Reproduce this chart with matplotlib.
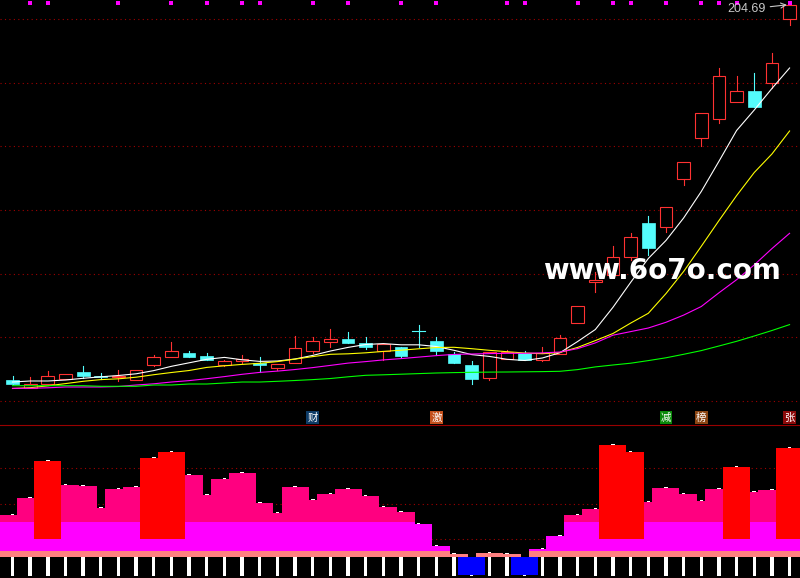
import numpy as np
import matplotlib.pyplot as plt
from matplotlib.patches import Rectangle
from matplotlib.transforms import blended_transform_factory

# ---- price data (one candle per day) ----
opens = [27.90, 23.98, 25.87, 28.51, 31.67, 29.78, 29.17, 27.90, 35.11, 38.88,
         40.62, 39.21, 34.97, 36.85, 36.05, 33.69, 35.77, 41.70, 45.94, 47.22,
         45.33, 41.56, 43.59, 51.08, 46.28, 40.29, 34.97, 28.98, 37.79, 40.48,
         37.32, 40.15, 54.90, 73.94, 77.52, 86.00, 101.88, 100.14, 122.76, 142.08,
         150.66, 159.05, 164.09, 167.72, 197.87]
highs = [29.78, 29.31, 32.14, 30.72, 34.49, 31.20, 32.61, 32.61, 39.68, 45.80,
         41.56, 40.62, 37.32, 39.68, 38.74, 35.29, 48.63, 48.16, 51.93, 50.52,
         48.16, 45.00, 43.59, 53.82, 48.16, 41.09, 36.85, 40.95, 41.80, 41.56,
         43.59, 49.10, 62.63, 78.79, 91.18, 97.17, 105.18, 109.28, 130.63, 153.58,
         174.78, 171.16, 172.71, 182.14, 204.69]
lows = [25.78, 23.98, 25.54, 28.51, 28.84, 28.37, 27.43, 27.90, 34.64, 38.88,
        38.88, 37.18, 34.49, 36.05, 31.67, 32.61, 35.77, 40.62, 43.59, 45.33,
        42.51, 37.32, 38.74, 43.59, 39.68, 35.91, 26.15, 27.90, 37.79, 37.32,
        36.99, 40.15, 54.90, 69.37, 77.52, 84.45, 86.80, 97.78, 119.93, 138.17,
        148.87, 159.05, 156.69, 165.50, 195.19]
closes = [25.87, 25.87, 29.78, 30.72, 29.92, 29.17, 29.78, 32.61, 38.74, 41.56,
          38.88, 37.18, 36.71, 37.79, 34.82, 35.29, 42.83, 46.28, 47.22, 45.33,
          43.59, 45.00, 39.21, 50.89, 41.42, 35.91, 28.37, 40.95, 41.09, 37.32,
          40.48, 47.69, 62.63, 75.02, 86.00, 95.14, 90.24, 109.28, 130.63, 153.58,
          171.16, 164.09, 156.69, 177.14, 204.69]

# moving averages
ma5 = [26.95, 27.43, 27.43, 27.90, 28.70, 29.40, 30.02, 30.82, 32.33, 34.35,
       36.00, 37.65, 38.55, 37.42, 36.66, 36.85, 37.79, 39.49, 41.56, 43.26,
       44.63, 45.05, 44.48, 44.48, 43.68, 41.89, 39.87, 39.02, 37.65, 37.09,
       38.26, 40.76, 46.04, 51.69, 62.16, 73.89, 85.15, 93.64, 104.24, 116.73,
       130.96, 145.47, 155.13, 165.27, 174.93]
ma10 = [23.89, 24.27, 25.16, 26.20, 27.28, 28.08, 28.46, 29.22, 30.39, 31.43,
        32.37, 33.83, 34.59, 35.25, 35.77, 36.57, 37.75, 38.92, 40.01, 40.24,
        40.71, 41.37, 41.94, 42.60, 43.21, 43.31, 42.65, 41.89, 41.23, 40.62,
        40.29, 40.86, 43.26, 46.46, 49.81, 54.71, 59.33, 68.61, 79.03, 90.90,
        103.01, 114.79, 125.68, 134.40, 145.24]
ma20 = [23.98, 23.98, 24.22, 24.60, 24.60, 24.60, 24.83, 25.54, 26.11, 26.95,
        27.61, 28.51, 29.50, 30.58, 31.48, 32.09, 32.84, 33.74, 34.78, 35.86,
        36.57, 37.37, 37.98, 38.69, 39.39, 39.96, 40.15, 40.34, 40.48, 40.48,
        40.67, 41.09, 42.69, 45.38, 49.01, 50.70, 52.40, 55.09, 58.48, 62.53,
        68.99, 75.16, 82.14, 89.82, 97.03]
ma60 = [25.21, 25.21, 25.21, 25.21, 25.21, 24.93, 24.93, 24.93, 25.54, 25.54,
        26.01, 26.01, 26.48, 26.95, 26.95, 27.28, 27.66, 28.08, 28.60, 29.40,
        30.11, 30.35, 30.63, 30.91, 31.20, 31.38, 31.52, 31.62, 31.67, 31.76,
        31.85, 32.00, 32.80, 34.07, 34.97, 35.81, 37.04, 38.36, 40.01, 41.75,
        43.92, 46.13, 48.63, 51.22, 54.00]

# lower indicator
power = [23.5, 33.1, 53.9, 40.4, 39.8, 27.4, 38.1, 39.3, 55.6, 59.0,
         46.0, 34.8, 43.8, 47.2, 30.3, 24.6, 39.3, 31.9, 35.3, 38.1,
         34.2, 28.0, 25.2, 18.4, 6.2, 1.5, -10.1, 2.3, 1.5, -10.1,
         4.5, 11.8, 23.7, 27.0, 63.1, 59.0, 31.0, 38.9, 35.5, 31.5,
         38.3, 50.5, 36.6, 37.7, 61.2]

top_marks = [1, 2, 6, 9, 11, 13, 14, 17, 19, 22, 24, 28, 29, 32, 34, 35,
             37, 39, 40, 41, 44]
sig_idx = [17, 24, 37, 39, 44]
sig_text = ["财", "激", "减", "榜", "张"]
sig_color = ["#0d3b66", "#c4501c", "#0a8a0a", "#8b4513", "#8b0a0a"]

price_grid = [18, 48, 78, 108, 138, 168, 198]
power_grid = [10, 30, 50]

RED = "#ff3232"
CYAN = "#54fcfc"
n = len(opens)
x = np.arange(n)
bw = 0.72

fig = plt.figure(figsize=(8, 5.78), dpi=100, facecolor="black")
ax = fig.add_axes([0, 0.2647, 1, 0.7353], facecolor="black")
ax2 = fig.add_axes([0, 0, 1, 0.2647], facecolor="black")
for a in (ax, ax2):
    a.set_xlim(-0.708, 44.59)
    a.set_xticks([])
    a.set_yticks([])
    for s in a.spines.values():
        s.set_visible(False)
ax.set_ylim(6.69, 206.97)
ax2.set_ylim(-11.83, 74.37)

for g in price_grid:
    ax.axhline(g, color="#a00000", lw=0.8, ls=(0, (1, 3)))
for g in power_grid:
    ax2.axhline(g, color="#a00000", lw=0.8, ls=(0, (1, 3)), zorder=0)

# candles
for i in range(n):
    o, h, l, c = opens[i], highs[i], lows[i], closes[i]
    if c >= o:
        ax.plot([i, i], [c, h], color=RED, lw=0.8, zorder=3)
        ax.plot([i, i], [l, o], color=RED, lw=0.8, zorder=3)
        ax.add_patch(Rectangle((i - bw / 2, o), bw, c - o, fc="black", ec=RED,
                               lw=0.8, zorder=3))
    else:
        ax.plot([i, i], [l, h], color=CYAN, lw=0.8, zorder=3)
        if o - c < 0.4:
            ax.plot([i - bw / 2, i + bw / 2], [o, o], color=CYAN, lw=0.8, zorder=3)
        else:
            ax.add_patch(Rectangle((i - bw / 2, c), bw, o - c, fc=CYAN, ec=CYAN,
                                   lw=0.5, zorder=3))

ax.plot(x, ma5, color="white", lw=0.8, zorder=4)
ax.plot(x, ma10, color="#ffff00", lw=0.8, zorder=4)
ax.plot(x, ma20, color="#ff00ff", lw=0.8, zorder=4)
ax.plot(x, ma60, color="#00ff00", lw=0.8, zorder=4)

trans = blended_transform_factory(ax.transData, ax.transAxes)
ax.scatter(top_marks, [0.9941] * len(top_marks), s=5, marker="s",
           color="#ff00ff", transform=trans, zorder=5, linewidths=0)
for i, t, col in zip(sig_idx, sig_text, sig_color):
    ax.text(i, 0.0176, t, transform=trans, ha="center", va="center",
            fontsize=7.5, color="white", family=["Noto Sans CJK SC", "DejaVu Sans"],
            bbox=dict(boxstyle="square,pad=0.12", fc=col, ec="none"), zorder=6)

imax = int(np.argmax(highs))
ax.annotate(f"{highs[imax]:.2f}", xy=(imax - 0.15, highs[imax]),
            xytext=(42.67, 202.6), ha="right", va="center", fontsize=9,
            family="Liberation Sans", color="#c8c8c8",
            arrowprops=dict(arrowstyle="->", color="#c8c8c8", lw=0.8,
                            shrinkA=1, shrinkB=0), zorder=6)

fig.text(543 / 800, 1 - 279 / 578, "www.6o7o.com", ha="left", va="baseline",
         fontsize=20, fontweight="bold", color="white", family="DejaVu Sans")

# lower panel
v = np.array(power)
pos = np.clip(v, 0, None)
w = 1.53
ax2.bar(x, pos, width=w, color="#ff0080", linewidth=0, zorder=1)
ax2.bar(x, np.minimum(pos, 20), width=w, color="#ff00ff", linewidth=0, zorder=1)
ax2.bar(x, np.minimum(pos, 3.4), width=w, color="#ff8080", linewidth=0, zorder=1)
hot = pos >= 50
ax2.bar(x[hot], pos[hot] - 10, bottom=10, width=w, color="#ff0000",
        linewidth=0, zorder=2)
ax2.bar(x, -10.5, width=0.19, color="white", linewidth=0, zorder=2)
neg = v < 0
ax2.bar(x[neg], v[neg], width=w, color="#0000ff", linewidth=0, zorder=3)
cap = np.where(v < 0, -0.8, 0.8)
ax2.bar(x, cap, bottom=v, width=0.2, color="white", linewidth=0, zorder=4)

ax2.spines["top"].set_visible(True)
ax2.spines["top"].set_color("#990000")
ax2.spines["bottom"].set_visible(True)
ax2.spines["bottom"].set_color("#990000")

fig.savefig("out.png", dpi=100, facecolor="black")
